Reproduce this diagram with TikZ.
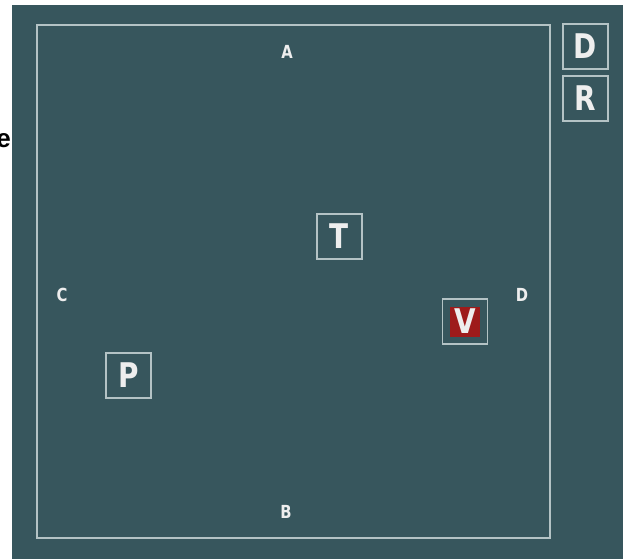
\documentclass[tikz,border=0pt]{standalone}
\usepackage{fontspec}
\usepackage{xcolor}
\newfontfamily\boxfont{DejaVu Sans}[FakeStretch=0.82]
\newfontfamily\edgefont{Liberation Sans}
\definecolor{SlateTeal}{HTML}{37565D}
\definecolor{FrameGray}{HTML}{B4C3C5}
\definecolor{LabelWhite}{HTML}{EEEEEE}
\definecolor{MarkRed}{HTML}{9E1B1B}

\begin{document}
\begin{tikzpicture}[x=1pt, y=-1pt,
    tag/.style={draw=FrameGray, line width=1.8pt, minimum width=45pt, minimum height=45pt,
        inner sep=0pt, text=LabelWhite, font=\boxfont\bfseries\fontsize{34}{34}\selectfont},
    side/.style={text=LabelWhite, inner sep=0pt, font=\boxfont\bfseries\fontsize{18}{18}\selectfont}]
    \useasboundingbox (0,0) rectangle (623,559);
    % background
    \fill[SlateTeal] (12,5) rectangle (623,559);
    % cut-off letter at the left edge
    \node[anchor=base east, inner sep=0pt, font=\edgefont\bfseries\fontsize{26}{26}\selectfont] (edgeE) at (11,147) {e};
    % frame
    \draw[FrameGray, line width=1.8pt] (37,25) rectangle (550,538);
    % sides
    \node[side] (sideA) at (287,52) {A};
    \node[side] (sideB) at (286,512) {B};
    \node[side] (sideC) at (62,295) {C};
    \node[side] (sideD) at (522,295) {D};
    % pieces
    \node[tag] (boxT) at (339.5,236.5) {T};
    \node[tag] (boxP) at (128.5,375.5) {P};
    \node[tag] (boxV) at (465,321.5) {};
    \node[tag, draw=none, fill=MarkRed, minimum width=30pt, minimum height=30pt] (markV) at (boxV) {V};
    % corner buttons
    \node[tag] (boxD) at (585.5,46.5) {D};
    \node[tag] (boxR) at (585.5,98.5) {R};
\end{tikzpicture}
\end{document}
